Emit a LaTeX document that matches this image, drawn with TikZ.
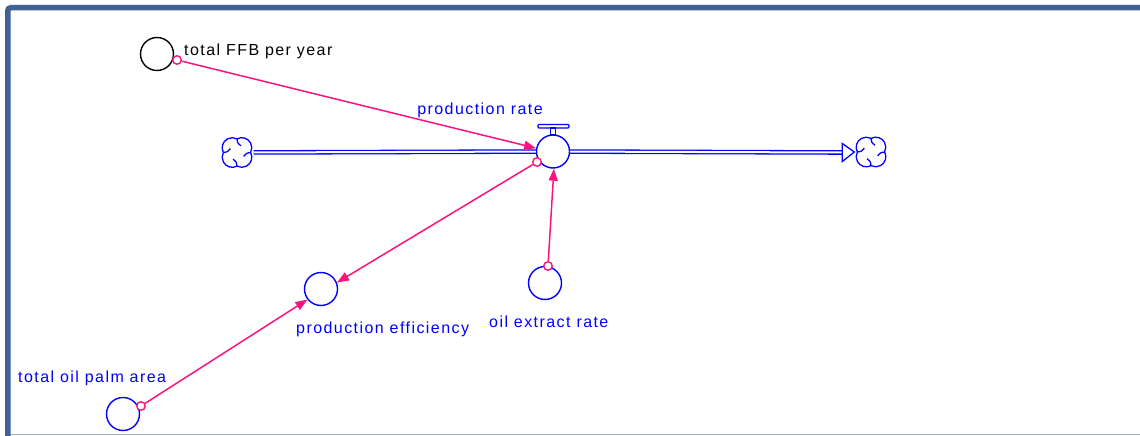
\documentclass[tikz,border=0pt]{standalone}
\usepackage{fontspec}
\newfontfamily\lab{Liberation Sans}[LetterSpace=9]
\usetikzlibrary{arrows.meta,calc}
\definecolor{vblue}{RGB}{0,0,255}
\definecolor{vpink}{RGB}{250,20,125}
\definecolor{vframe}{RGB}{62,98,146}
\definecolor{vframelight}{RGB}{160,175,195}
\tikzset{
  var/.style={circle, draw=vblue, line width=1.4pt, minimum size=33pt, inner sep=0pt},
  txt/.style={font=\lab\fontsize{16}{19}\selectfont, text=vblue, inner sep=0pt},
  link/.style={draw=vpink, line width=1.5pt, -{Triangle[length=12pt,width=9pt]}},
  hook/.style={circle, draw=vpink, fill=white, line width=1.4pt, minimum size=8.5pt, inner sep=0pt},
  pipe/.style={draw=vblue, line width=1.3pt, double=white, double distance=2pt},
  cloudnode/.style={circle, minimum size=33pt, inner sep=0pt},
  cloudsym/.pic={
    \begin{scope}[scale=1.12]
    \foreach \a in {0,90,180,270}{
      \begin{scope}[rotate=\a]
        \draw[vblue, line width=1.3pt] (12.18,0) arc[start angle=-28, end angle=118, radius=9];
        \draw[vblue, line width=1.3pt] (12.18,0) .. controls (8.5,0.5) .. (6,3.5);
      \end{scope}
    }
    \end{scope}
  }
}
\begin{document}
\begin{tikzpicture}[x=1pt,y=-1pt]
\useasboundingbox (0,0) rectangle (1140,436);
\clip (0,0) rectangle (1140,436);
% frame
\draw[vframelight, line width=1.5pt] (10,434.5) -- (1145,434.5);
\draw[vframe, line width=5.5pt, rounded corners=3pt] (7.75,445) -- (7.75,7.75) -- (1150,7.75);

% stock-flow
\node[cloudnode] (src) at (237,152.5) {};
\pic at (src) {cloudsym};
\node[cloudnode] (sink) at (871,152) {};
\pic at (sink) {cloudsym};
\node[var] (valve) at (553,151.5) {};
\coordinate (ab) at ($(sink.west)+(-12,0.5)$);
\draw[pipe] (src) -- (valve);
\draw[pipe] (valve) -- (ab);
\draw[vblue, line width=1.3pt, fill=white] ($(ab)+(0,-9)$) -- (sink.west) -- ($(ab)+(0,9)$) -- cycle;
\draw[vblue, line width=1.2pt, rounded corners=1pt] (538,124.5) rectangle (569,128);
\draw[vblue, line width=1.2pt] (550.5,128) rectangle (555.5,134.5);
\node[txt, anchor=base] (lrate) at (480,114) {production rate};

% variables
\node[var, draw=black] (ffb) at (157,54) {};
\node[txt, text=black, anchor=base west] (lffb) at (184,56) {total FFB per year};
\node[var] (peff) at (321,289) {};
\node[txt, anchor=base west] (lpeff) at (296,333) {production efficiency};
\node[var] (oil) at (545,283) {};
\node[txt, anchor=base west] (loil) at (489,327) {oil extract rate};
\node[var] (palm) at (123,414) {};
\node[txt, anchor=base west] (lpalm) at (18,382) {total oil palm area};

% connectors
\node[hook] (h1) at ($(ffb)+(20,6)$) {};
\node[hook] (h2) at ($(valve)+(-16,10.5)$) {};
\node[hook] (h3) at ($(oil)+(3,-17)$) {};
\node[hook] (h4) at ($(palm)+(18,-8)$) {};
\draw[link] (h1) -- (valve.169);
\draw[link] (h2) -- (peff.22);
\draw[link] (h3) -- (valve.-87);
\draw[link] (h4) -- (peff.218);
\end{tikzpicture}
\end{document}
